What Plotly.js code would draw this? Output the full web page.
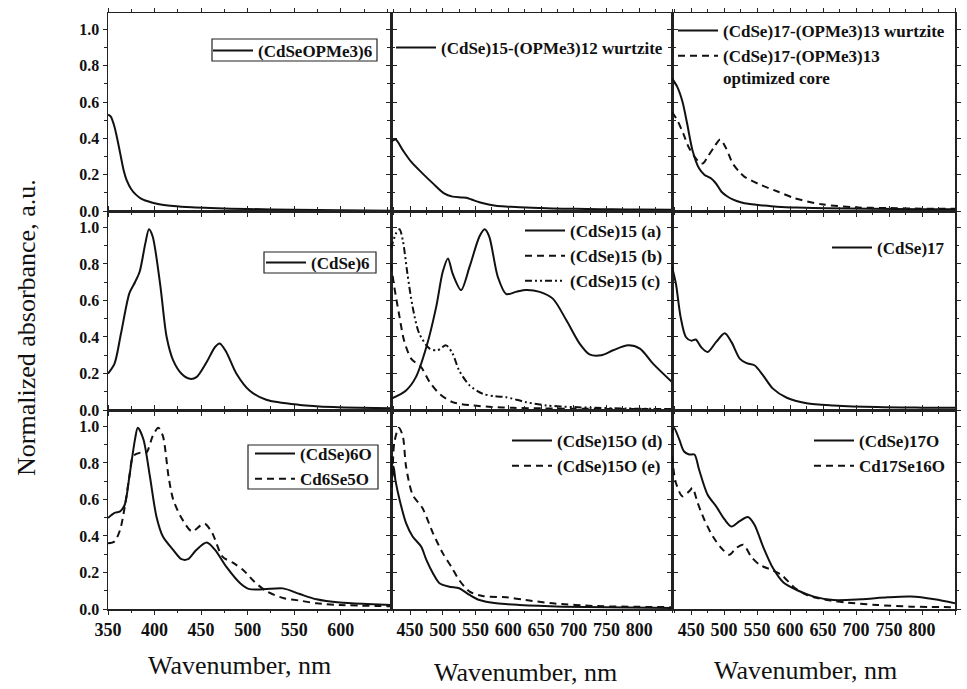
<!DOCTYPE html>
<html><head><meta charset="utf-8">
<script src="https://cdn.plot.ly/plotly-3.0.1.min.js"></script>
<style>html,body{margin:0;padding:0;background:#fff}#chart{width:967px;height:689px}</style>
</head><body><div id="chart"></div>
<script>
// ---- Panel (1,1): (CdSeOPMe3)6
const p11_x = [350,353,356,359,363,367,370,375,380,385,390,395,400,410,420,440,460,500,550,600,654];
const p11_y = [0.53,0.52,0.48,0.42,0.32,0.22,0.17,0.12,0.09,0.07,0.058,0.05,0.043,0.033,0.027,0.02,0.016,0.011,0.007,0.004,0.002];
// ---- Panel (1,2): (CdSe)15-(OPMe3)12 wurtzite
const p12_x = [421,428,439,452,469,485,502,515,528,536,545,556,570,581,600,617,650,683,720,759,800,850];
const p12_y = [0.38,0.394,0.335,0.27,0.207,0.152,0.097,0.079,0.075,0.073,0.062,0.048,0.036,0.029,0.024,0.02,0.016,0.013,0.011,0.009,0.008,0.007];
// ---- Panel (1,3)
const p13a_x = [421,429,437,444,452,462,470,480,488,496,505,513,525,539,560,580,610,656,720,800,850];
const p13a_y = [0.73,0.683,0.60,0.48,0.335,0.235,0.2,0.18,0.15,0.106,0.08,0.064,0.048,0.038,0.03,0.024,0.019,0.015,0.012,0.01,0.009];
const p13b_x = [421,429,438,446,455,462,468,475,485,494,503,513,522,531,556,582,607,648,699,750,800,850];
const p13b_y = [0.545,0.50,0.427,0.353,0.3,0.27,0.262,0.298,0.353,0.394,0.345,0.262,0.22,0.188,0.143,0.106,0.07,0.037,0.02,0.016,0.013,0.012];
// ---- Panel (2,1): (CdSe)6
const p21_x = [350,357,364,373,379,384,390,394,398,406,413,420,429,438,445,456,465,470,477,488,502,520,556,592,620,654];
const p21_y = [0.199,0.254,0.42,0.64,0.70,0.757,0.91,0.99,0.95,0.69,0.40,0.272,0.199,0.171,0.18,0.263,0.345,0.364,0.318,0.199,0.107,0.056,0.028,0.016,0.012,0.01];
// ---- Panel (2,2)
const p22a_x = [421,444,459,475,490,500,508,515,528,541,556,564,571,584,597,612,627,648,668,689,709,724,742,760,783,801,821,850];
const p22a_y = [0.061,0.107,0.18,0.345,0.565,0.757,0.83,0.748,0.657,0.785,0.95,0.99,0.95,0.73,0.635,0.647,0.657,0.647,0.61,0.49,0.364,0.305,0.30,0.327,0.354,0.336,0.254,0.153];
const p22b_x = [421,426,434,441,452,467,480,495,515,546,575,607,650,700,750,800,850];
const p22b_y = [0.80,0.675,0.51,0.38,0.28,0.235,0.153,0.089,0.043,0.025,0.017,0.012,0.009,0.007,0.006,0.005,0.005];
const p22c_x = [421,429,434,439,446,454,464,480,492,505,515,525,541,561,580,597,627,658,700,734,780,850];
const p22c_y = [0.885,0.97,0.99,0.93,0.748,0.565,0.42,0.336,0.327,0.354,0.309,0.217,0.135,0.089,0.075,0.07,0.043,0.025,0.016,0.012,0.008,0.005];
// ---- Panel (2,3): (CdSe)17
const p23_x = [421,427,434,442,450,457,465,475,488,501,511,524,534,546,559,574,595,625,666,732,800,850];
const p23_y = [0.785,0.69,0.51,0.40,0.38,0.386,0.345,0.318,0.373,0.42,0.373,0.28,0.257,0.245,0.19,0.117,0.067,0.037,0.025,0.016,0.013,0.012];
// ---- Panel (3,1)
const p31a_x = [350,357,363,368,373,379,382,388,395,402,409,420,429,436,445,456,465,477,492,501,517,538,556,574,599,628,654];
const p31a_y = [0.498,0.526,0.535,0.571,0.727,0.929,0.993,0.93,0.727,0.507,0.397,0.324,0.273,0.273,0.324,0.364,0.324,0.232,0.141,0.11,0.108,0.113,0.082,0.053,0.035,0.027,0.022];
const p31b_x = [350,357,363,368,373,377,384,391,398,404,409,415,420,429,440,449,454,462,473,485,496,507,521,539,556,574,599,654];
const p31b_y = [0.36,0.37,0.434,0.56,0.727,0.837,0.855,0.855,0.947,0.993,0.947,0.727,0.60,0.498,0.425,0.456,0.467,0.416,0.287,0.251,0.21,0.15,0.095,0.059,0.046,0.031,0.022,0.015];
// ---- Panel (3,2)
const p32a_x = [421,423,425,428,434,444,454,467,475,485,495,510,525,541,556,582,617,683,750,850];
const p32a_y = [0.84,0.72,0.78,0.70,0.60,0.47,0.397,0.342,0.269,0.196,0.141,0.122,0.114,0.077,0.049,0.031,0.022,0.013,0.009,0.006];
const p32b_x = [421,423,426,433,439,444,454,469,485,500,513,525,541,561,597,627,668,735,800,850];
const p32b_y = [0.60,0.71,0.91,0.993,0.947,0.78,0.626,0.553,0.416,0.306,0.232,0.159,0.095,0.071,0.064,0.049,0.031,0.016,0.012,0.01];
// ---- Panel (3,3)
const p33a_x = [421,424,432,439,447,455,462,475,488,501,511,523,536,546,559,574,590,610,636,666,707,748,783,819,850];
const p33a_y = [0.965,0.993,0.929,0.864,0.846,0.846,0.764,0.626,0.562,0.489,0.452,0.48,0.504,0.462,0.342,0.224,0.145,0.104,0.068,0.049,0.053,0.064,0.068,0.053,0.031];
const p33b_x = [421,427,437,447,452,460,470,483,496,508,518,529,541,554,572,587,605,625,656,687,732,783,850];
const p33b_y = [0.837,0.69,0.617,0.645,0.663,0.58,0.489,0.397,0.333,0.297,0.333,0.352,0.287,0.242,0.214,0.187,0.122,0.077,0.049,0.035,0.022,0.013,0.01];

const names = {
  p11: '(CdSeOPMe3)6',
  p12: '(CdSe)15-(OPMe3)12 wurtzite',
  p13a: '(CdSe)17-(OPMe3)13 wurtzite',
  p13b: '(CdSe)17-(OPMe3)13<br>optimized core',
  p21: '(CdSe)6',
  p22a: '(CdSe)15 (a)', p22b: '(CdSe)15 (b)', p22c: '(CdSe)15 (c)',
  p23: '(CdSe)17',
  p31a: '(CdSe)6O', p31b: 'Cd6Se5O',
  p32a: '(CdSe)15O (d)', p32b: '(CdSe)15O (e)',
  p33a: '(CdSe)17O', p33b: 'Cd17Se16O'
};
const col1Ticks = [350,400,450,500,550,600];
const col2Ticks = [450,500,550,600,650,700,750,800];
const col3Ticks = [450,500,550,600,650,700,750,800,850];
const yTicks = [0,0.2,0.4,0.6,0.8,1.0];

const SOLID = 'solid', DASH = '7px,5px', DDOT = '7px,3px,2px,3px,2px,3px';
function tr(x, y, name, panel, dash) {
  return {x: x, y: y, name: name, type: 'scatter', mode: 'lines',
    xaxis: 'x' + (panel === 1 ? '' : panel), yaxis: 'y' + (panel === 1 ? '' : panel),
    legend: 'legend' + (panel === 1 ? '' : panel),
    line: {color: '#111', width: 2, dash: dash, shape: 'spline', smoothing: 0.8}};
}
const data = [
  tr(p11_x, p11_y, names.p11, 1, SOLID),
  tr(p12_x, p12_y, names.p12, 2, SOLID),
  tr(p13a_x, p13a_y, names.p13a, 3, SOLID),
  tr(p13b_x, p13b_y, names.p13b, 3, DASH),
  tr(p21_x, p21_y, names.p21, 4, SOLID),
  tr(p22a_x, p22a_y, names.p22a, 5, SOLID),
  tr(p22b_x, p22b_y, names.p22b, 5, DASH),
  tr(p22c_x, p22c_y, names.p22c, 5, DDOT),
  tr(p23_x, p23_y, names.p23, 6, SOLID),
  tr(p31a_x, p31a_y, names.p31a, 7, SOLID),
  tr(p31b_x, p31b_y, names.p31b, 7, DASH),
  tr(p32a_x, p32a_y, names.p32a, 8, SOLID),
  tr(p32b_x, p32b_y, names.p32b, 8, DASH),
  tr(p33a_x, p33a_y, names.p33a, 9, SOLID),
  tr(p33b_x, p33b_y, names.p33b, 9, DASH)
];

const FONT = '"Liberation Serif", "Times New Roman", serif';
const L = 108, R = 955, T = 13, B = 609, W = 967, H = 689;
const colPx = [[108, 391], [391, 672], [672, 955]];
const rowPx = [[13, 211], [211, 410], [410, 609]];
const px2x = p => (p - L) / (R - L);
const py2y = p => (B - p) / (B - T);

const layout = {
  width: W, height: H,
  margin: {l: L, r: W - R, t: T, b: H - B, pad: 0},
  paper_bgcolor: '#fff', plot_bgcolor: '#fff',
  font: {family: FONT, color: '#111'},
  showlegend: true,
  annotations: [],
  shapes: []
};
const xr = [[350, 654], [421, 850], [421, 850]];
const xt = [col1Ticks, col2Ticks, col3Ticks];
for (let r = 0; r < 3; r++) {
  for (let c = 0; c < 3; c++) {
    const i = r * 3 + c + 1;
    const sfx = i === 1 ? '' : i;
    layout['xaxis' + sfx] = {
      domain: [px2x(colPx[c][0]), px2x(colPx[c][1])],
      anchor: 'y' + sfx, range: xr[c], tickmode: 'array', tickvals: xt[c],
      showticklabels: r === 2, ticks: 'outside', ticklen: 4, tickwidth: 1, tickcolor: '#222',
      minor: {ticks: 'outside', dtick: 25, tick0: 350, ticklen: 2.5, tickcolor: '#222'},
      showline: true, linecolor: '#222', linewidth: 1.5, mirror: 'ticks',
      showgrid: false, zeroline: false,
      tickfont: {family: FONT, size: 18, color: '#111', weight: 700},
      fixedrange: true
    };
    layout['yaxis' + sfx] = {
      domain: [py2y(rowPx[r][1]), py2y(rowPx[r][0])],
      anchor: 'x' + sfx, range: [0, 1.09], tickmode: 'array', tickvals: yTicks,
      ticktext: yTicks.map(v => v.toFixed(1)),
      showticklabels: c === 0, ticks: 'outside', ticklen: 4, tickwidth: 1, tickcolor: '#222',
      minor: {ticks: 'outside', dtick: 0.1, tick0: 0, ticklen: 2.5, tickcolor: '#222'},
      showline: true, linecolor: '#222', linewidth: 1.5, mirror: 'ticks',
      showgrid: false, zeroline: false,
      tickfont: {family: FONT, size: 16, color: '#111', weight: 700},
      fixedrange: true
    };
  }
}
function leg(xRightPx, yTopPx) {
  return {x: px2x(xRightPx), y: py2y(yTopPx), xanchor: 'right', yanchor: 'top',
    bgcolor: 'rgba(0,0,0,0)', borderwidth: 0,
    font: {family: FONT, size: 17, color: '#111', weight: 700},
    itemwidth: 40, tracegroupgap: 0, valign: 'top', itemclick: false, itemdoubleclick: false};
}
layout.legend = leg(378, 33);
layout.legend2 = leg(668, 30);
layout.legend3 = leg(950, 13);
layout.legend4 = leg(375, 245);
layout.legend5 = leg(668, 213);
layout.legend6 = leg(950, 230);
layout.legend7 = leg(377, 436);
layout.legend8 = leg(668, 423);
layout.legend9 = leg(950, 423);

// legend frames in the first column
[[212, 39, 377, 61], [264, 252, 376, 273], [248, 445, 378, 489]].forEach(b => {
  layout.shapes.push({type: 'rect', xref: 'paper', yref: 'paper', layer: 'above',
    x0: px2x(b[0]), x1: px2x(b[2]), y0: py2y(b[3]), y1: py2y(b[1]),
    line: {color: '#222', width: 1.2}, fillcolor: 'rgba(0,0,0,0)'});
});

const titleFont = {family: FONT, size: 26, color: '#111'};
[[239, 666], [525, 672], [805, 670]].forEach(p => {
  layout.annotations.push({text: 'Wavenumber, nm', xref: 'paper', yref: 'paper',
    x: px2x(p[0]), y: py2y(p[1]), xanchor: 'center', yanchor: 'middle', showarrow: false, font: titleFont});
});
layout.annotations.push({text: 'Normalized absorbance, a.u.', xref: 'paper', yref: 'paper',
  x: px2x(26), y: py2y(328), xanchor: 'center', yanchor: 'middle', textangle: -90, showarrow: false, font: titleFont});

Plotly.newPlot('chart', data, layout, {displayModeBar: false, staticPlot: true});
</script>
</body></html>
